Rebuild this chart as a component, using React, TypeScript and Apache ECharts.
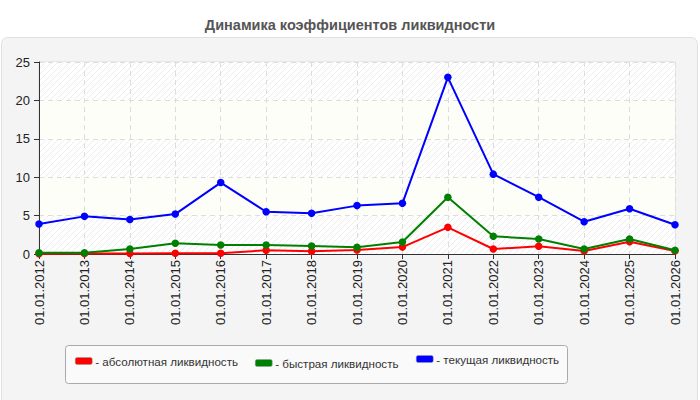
import React, { useEffect, useRef } from "react";
import * as echarts from "echarts";

const years = [
  "01.01.2012", "01.01.2013", "01.01.2014", "01.01.2015", "01.01.2016",
  "01.01.2017", "01.01.2018", "01.01.2019", "01.01.2020", "01.01.2021",
  "01.01.2022", "01.01.2023", "01.01.2024", "01.01.2025", "01.01.2026",
];
const absoluteLiquidity = [0.02, 0.05, 0.08, 0.1, 0.1, 0.48, 0.35, 0.52, 0.9, 3.47, 0.65, 1.0, 0.39, 1.6, 0.4];
const quickLiquidity = [0.15, 0.15, 0.65, 1.4, 1.17, 1.17, 1.04, 0.87, 1.56, 7.4, 2.3, 1.95, 0.65, 1.95, 0.48];
const currentLiquidity = [3.9, 4.9, 4.5, 5.2, 9.3, 5.5, 5.3, 6.3, 6.6, 23.0, 10.4, 7.4, 4.2, 5.9, 3.8];

const seriesNames = ["- абсолютная ликвидность", "- быстрая ликвидность", "- текущая ликвидность"];
const seriesColors = ["#ff0000", "#008000", "#0000ff"];

const FONT = "'Liberation Sans', Arial, sans-serif";

function makeHatch() {
  const c = document.createElement("canvas");
  c.width = 6;
  c.height = 6;
  const ctx = c.getContext("2d")!;
  ctx.fillStyle = "#ffffff";
  ctx.fillRect(0, 0, 6, 6);
  ctx.strokeStyle = "#ececec";
  ctx.lineWidth = 1;
  ctx.beginPath();
  ctx.moveTo(0, 6);
  ctx.lineTo(6, 0);
  ctx.moveTo(-1, 1);
  ctx.lineTo(1, -1);
  ctx.moveTo(5, 7);
  ctx.lineTo(7, 5);
  ctx.stroke();
  return c;
}

const App = () => {
  const chartRef = useRef<HTMLDivElement>(null);

  useEffect(() => {
    if (!chartRef.current) return;
    const chart = echarts.init(chartRef.current, null, { renderer: "svg" });
    const hatch = { image: makeHatch(), repeat: "repeat" };

    const legendTops = [355, 357, 353];
    const legendLefts = [75, 255, 416];

    const options = {
      animation: false,
      backgroundColor: "#ffffff",
      title: {
        text: "Динамика коэффициентов ликвидности",
        left: "center",
        top: 12,
        textStyle: { fontFamily: FONT, fontSize: 14.5, fontWeight: "bold", color: "#555555" },
      },
      graphic: [
        {
          type: "rect",
          z: -10,
          shape: { x: 1.5, y: 37.5, width: 696, height: 380, r: 6 },
          style: { fill: "#f4f4f4", stroke: "#e0e0e0", lineWidth: 1 },
        },
        {
          type: "rect",
          z: -5,
          shape: { x: 65.5, y: 345.5, width: 502, height: 38, r: 3 },
          style: { fill: "#fafafa", stroke: "#aaaaaa", lineWidth: 1 },
        },
      ],
      legend: seriesNames.map((name, i) => ({
        data: [name],
        left: legendLefts[i],
        top: legendTops[i],
        padding: 0,
        itemWidth: 17,
        itemHeight: 7,
        itemGap: 3,
        icon: "roundRect",
        itemStyle: { borderColor: "#999999", borderWidth: 0.5 },
        textStyle: { fontFamily: FONT, fontSize: 11.6, color: "#333333", padding: [0, 0, 0, -2] },
      })),
      grid: {
        left: 39,
        right: 25,
        top: 62,
        bottom: 146,
        show: true,
        borderColor: "#dddddd",
        borderWidth: 1,
        backgroundColor: "#ffffff",
      },
      xAxis: {
        type: "category",
        data: years,
        boundaryGap: false,
        axisLine: { lineStyle: { color: "#333333", width: 1 } },
        axisTick: { show: true, length: 5, alignWithLabel: true, lineStyle: { color: "#333333" } },
        axisLabel: { rotate: 90, fontFamily: FONT, fontSize: 13, color: "#222222", margin: 6, interval: 0 },
        splitLine: { show: true, lineStyle: { color: "#dddddd", type: [5, 4] } },
      },
      yAxis: {
        type: "value",
        min: 0,
        max: 25,
        interval: 5,
        axisLine: { show: true, lineStyle: { color: "#333333", width: 1 } },
        axisTick: { show: true, length: 5, lineStyle: { color: "#333333" } },
        axisLabel: { fontFamily: FONT, fontSize: 13, color: "#222222", margin: 9 },
        splitLine: { show: true, lineStyle: { color: "#dddddd", type: [5, 4] } },
        splitArea: { show: true, areaStyle: { color: [hatch, "#fefef8"] } },
      },
      series: [absoluteLiquidity, quickLiquidity, currentLiquidity].map((data, i) => ({
        name: seriesNames[i],
        type: "line",
        data,
        symbol: "circle",
        symbolSize: 7.5,
        color: seriesColors[i],
        lineStyle: { width: 2, color: seriesColors[i] },
        itemStyle: { color: seriesColors[i] },
        z: 2 + i,
      })),
    };

    chart.setOption(options as any);
    return () => chart.dispose();
  }, []);

  return <div ref={chartRef} style={{ width: "700px", height: "400px", position: "absolute", left: 0, top: 0 }} />;
};

export default App;
